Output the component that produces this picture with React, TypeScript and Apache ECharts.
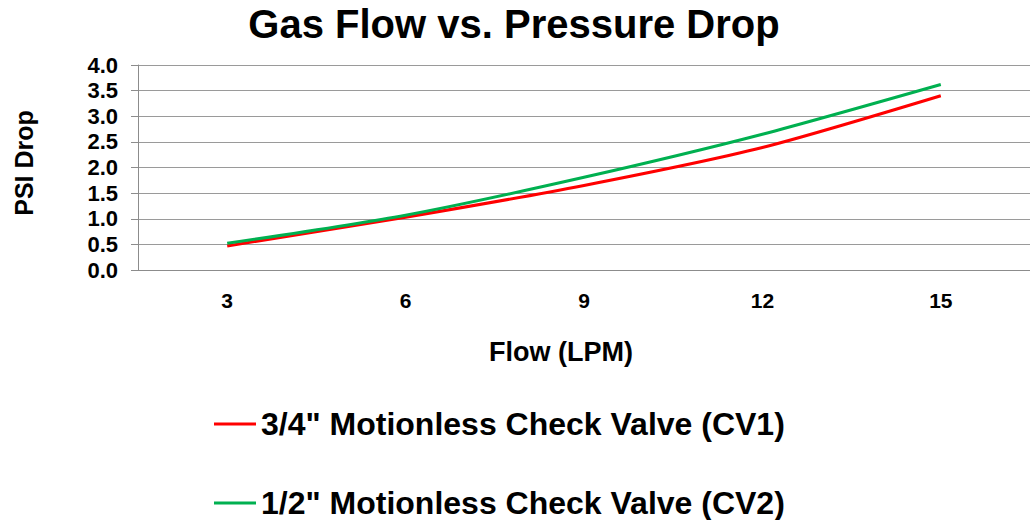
import React, { useEffect, useRef } from "react";
import * as echarts from "echarts";

const flowLabels = ["3", "6", "9", "12", "15"];
const cv1Values = [0.47, 1.03, 1.65, 2.39, 3.40];
const cv2Values = [0.52, 1.07, 1.81, 2.65, 3.62];
const seriesNames = [
  '3/4" Motionless Check Valve (CV1)',
  '1/2" Motionless Check Valve (CV2)',
];
const seriesColors = ["#ff0000", "#00b050"];
const titleText = "Gas Flow vs. Pressure Drop";
const xName = "Flow (LPM)";
const yName = "PSI Drop";

const FONT = "Liberation Sans, Arial, sans-serif";

const legendBase = {
  orient: "vertical",
  left: 214,
  padding: 0,
  itemWidth: 42,
  itemHeight: 3,
  icon: "rect",
  textStyle: {
    fontFamily: FONT,
    fontSize: 32,
    fontWeight: "bold",
    color: "#000",
  },
};

export default function App() {
  const ref = useRef<HTMLDivElement>(null);
  useEffect(() => {
    if (!ref.current) return;
    const chart = echarts.init(ref.current, undefined, { renderer: "svg" });
    chart.setOption({
      animation: false,
      backgroundColor: "#ffffff",
      textStyle: { fontFamily: FONT },
      graphic: [
        {
          type: "text",
          x: 514,
          y: 24,
          style: {
            text: titleText,
            font: `bold 40px ${FONT}`,
            fill: "#000",
            align: "center",
            verticalAlign: "middle",
          },
        },
        {
          type: "text",
          x: 24,
          y: 163,
          rotation: Math.PI / 2,
          style: {
            text: yName,
            font: `bold 25px ${FONT}`,
            fill: "#000",
            align: "center",
            verticalAlign: "middle",
          },
        },
        {
          type: "text",
          x: 561,
          y: 352,
          style: {
            text: xName,
            font: `bold 27px ${FONT}`,
            fill: "#000",
            align: "center",
            verticalAlign: "middle",
          },
        },
      ],
      legend: [
        { ...legendBase, top: 408, data: [seriesNames[0]] },
        { ...legendBase, top: 487, data: [seriesNames[1]] },
      ],
      grid: {
        left: 138,
        top: 65,
        width: 900,
        bottom: 250,
        containLabel: false,
      },
      xAxis: {
        type: "category",
        data: flowLabels,
        boundaryGap: true,
        axisLine: { lineStyle: { color: "#8c8c8c", width: 1 } },
        axisTick: { show: false },
        axisLabel: {
          margin: 20,
          fontFamily: FONT,
          fontSize: 21,
          fontWeight: "bold",
          color: "#000",
        },
      },
      yAxis: {
        type: "value",
        min: 0,
        max: 4,
        interval: 0.5,
        axisLine: { show: true, lineStyle: { color: "#8c8c8c", width: 1 } },
        axisTick: { show: true, length: 7, lineStyle: { color: "#8c8c8c" } },
        splitLine: { lineStyle: { color: "#9a9a9a", width: 1 } },
        axisLabel: {
          margin: 20,
          fontFamily: FONT,
          fontSize: 22,
          fontWeight: "bold",
          color: "#000",
          formatter: (v: number) => v.toFixed(1),
        },
      },
      series: [0, 1].map((i) => ({
        name: seriesNames[i],
        type: "line",
        data: i === 0 ? cv1Values : cv2Values,
        smooth: 0.25,
        symbol: "none",
        lineStyle: { color: seriesColors[i], width: 3 },
        itemStyle: { color: seriesColors[i] },
      })),
    });
    return () => chart.dispose();
  }, []);
  return (
    <div
      ref={ref}
      style={{ width: 1030, height: 520, position: "absolute", left: 0, top: 0 }}
    />
  );
}
